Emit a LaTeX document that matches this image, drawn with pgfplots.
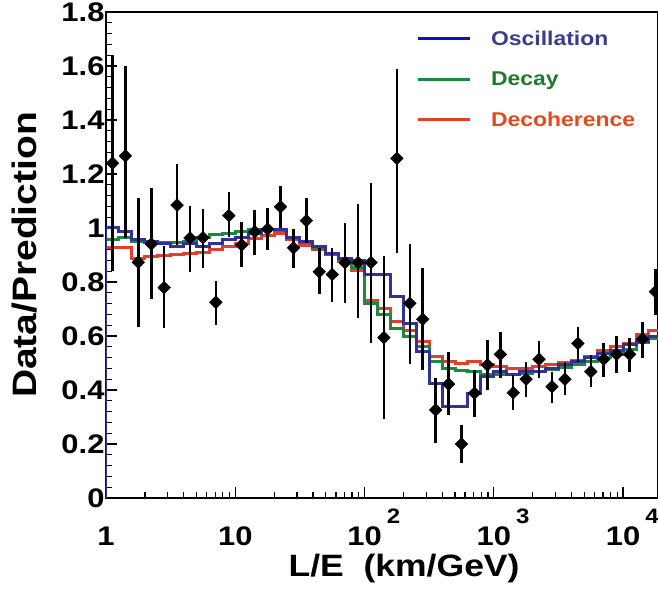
\documentclass[border=0pt]{standalone}
\usepackage{fontspec}
\setmainfont{Liberation Sans}[FakeStretch=1.15]
\usepackage{pgfplots}
\usepackage{pgfplotstable}
\pgfplotsset{compat=1.18}

\definecolor{osc}{RGB}{50,50,150}
\definecolor{dec}{RGB}{26,138,64}
\definecolor{coh}{RGB}{226,64,42}
\definecolor{legosc}{RGB}{16,16,200}
\definecolor{txtosc}{RGB}{60,60,140}
\definecolor{txtdec}{RGB}{30,122,40}
\definecolor{txtcoh}{RGB}{224,74,30}

% histograms: left bin edge, value for each model
\pgfplotstableread{
x osc dec coh
1 0 0 0
1 1.000 0.958 0.929
1.2589 0.986 0.965 0.929
1.5849 0.956 0.949 0.888
1.9953 0.949 0.945 0.893
2.5119 0.943 0.945 0.898
3.1623 0.933 0.945 0.900
3.9811 0.941 0.950 0.906
5.0119 0.931 0.965 0.908
6.3096 0.943 0.975 0.921
7.9433 0.956 0.980 0.932
10 0.965 0.986 0.944
12.589 0.980 0.995 0.962
15.849 0.993 0.995 0.974
19.953 0.996 0.990 0.980
25.119 0.965 0.960 0.956
31.623 0.950 0.945 0.937
39.811 0.931 0.925 0.919
50.119 0.906 0.900 0.900
63.096 0.888 0.880 0.876
79.433 0.881 0.855 0.844
100 0.826 0.720 0.730
125.89 0.826 0.678 0.702
158.49 0.746 0.628 0.653
199.53 0.647 0.598 0.622
251.19 0.542 0.561 0.579
316.23 0.425 0.505 0.523
398.11 0.338 0.481 0.505
501.19 0.338 0.474 0.499
630.96 0.388 0.468 0.505
794.33 0.449 0.456 0.493
1000 0.470 0.456 0.487
1258.9 0.456 0.456 0.481
1584.9 0.468 0.462 0.481
1995.3 0.468 0.468 0.487
2511.9 0.480 0.475 0.493
3162.3 0.493 0.485 0.500
3981.1 0.505 0.495 0.510
5011.9 0.520 0.505 0.525
6309.6 0.536 0.520 0.545
7943.3 0.548 0.530 0.560
10000 0.567 0.550 0.573
12589 0.579 0.575 0.604
15849 0.598 0.590 0.620
19953 0.598 0.590 0.620
}\models

% data points: bin centre, ratio, error up, error down
\pgfplotstableread{
x y ep em
1.122 1.240 0.400 0.400
1.413 1.267 0.333 0.304
1.778 0.873 0.238 0.240
2.239 0.941 0.207 0.204
2.818 0.779 0.155 0.149
3.548 1.085 0.152 0.148
4.467 0.963 0.120 0.126
5.623 0.964 0.106 0.111
7.079 0.725 0.080 0.084
8.913 1.046 0.089 0.078
11.22 0.937 0.086 0.082
14.13 0.986 0.081 0.086
17.78 0.996 0.077 0.077
22.39 1.079 0.077 0.079
28.18 0.927 0.069 0.074
35.48 1.027 0.085 0.081
44.67 0.838 0.089 0.084
56.23 0.828 0.099 0.101
70.79 0.872 0.145 0.149
89.13 0.872 0.217 0.207
112.2 0.872 0.296 0.299
141.3 0.594 0.302 0.303
177.8 1.258 0.332 0.349
223.9 0.721 0.219 0.225
281.8 0.662 0.189 0.188
354.8 0.326 0.117 0.121
446.7 0.422 0.118 0.115
562.3 0.200 0.070 0.072
707.9 0.388 0.086 0.087
891.3 0.493 0.092 0.093
1122 0.532 0.084 0.089
1413 0.390 0.066 0.064
1778 0.440 0.065 0.067
2239 0.514 0.067 0.071
2818 0.412 0.056 0.061
3548 0.440 0.065 0.059
4467 0.573 0.061 0.068
5623 0.468 0.062 0.058
7079 0.514 0.061 0.065
8913 0.532 0.068 0.068
11220 0.532 0.062 0.064
14130 0.589 0.064 0.069
17780 0.764 0.083 0.086
}\points

\newcommand{\powsup}[1]{\rlap{\hspace{5bp}\raisebox{22bp}{\fontsize{21}{21}\selectfont #1}}}

\begin{document}
\begin{tikzpicture}
\begin{axis}[
    name=ax,
    width=552bp, height=486bp, scale only axis,
    xmode=log, xmin=1, xmax=18620,
    ymin=0, ymax=1.8,
    xtick={1,10,100,1000,10000},
    xticklabels={1,10,10\powsup{2},10\powsup{3},10\powsup{4}},
    ytick={0,0.2,...,1.8},
    minor y tick num=4,
    xtick pos=bottom, ytick pos=left,
    tick align=inside,
    major tick length=11bp, minor tick length=6bp,
    every tick/.style={black, line width=1.3bp},
    axis line style={line width=1.5bp},
    /pgf/number format/assume math mode=true,
    /pgf/number format/fixed,
    ticklabel style={font=\fontsize{27}{27}\selectfont\bfseries},
    xticklabel style={anchor=base, yshift=-47bp},
    yticklabel style={xshift=2bp},
    xlabel={L/E\ \ (km/GeV)},
    ylabel={Data/Prediction},
    xlabel style={font=\fontsize{31}{31}\selectfont\bfseries,
      at={(axis description cs:0.54,0)}, anchor=center, yshift=-71bp},
    ylabel style={font=\fontsize{34}{34}\selectfont\bfseries,
      at={(axis description cs:0,0.5)}, anchor=center, yshift=81bp},
    legend style={draw=none, fill=none, at={(0.556,0.97)}, anchor=north west,
      font=\fontsize{20}{24}\selectfont\bfseries, row sep=21bp,
      /tikz/every odd column/.append style={column sep=18bp}},
    legend cell align=left,
    legend image code/.code={\draw[#1, line width=3bp] (0bp,0bp) -- (52bp,0bp);},
]
\addlegendimage{legosc}
\addlegendentry{\textcolor{txtosc}{Oscillation}}
\addlegendimage{dec}
\addlegendentry{\textcolor{txtdec}{Decay}}
\addlegendimage{coh}
\addlegendentry{\textcolor{txtcoh}{Decoherence}}

\addplot[const plot mark left, coh, line width=3bp, forget plot] table[x=x, y=coh] {\models};
\addplot[const plot mark left, dec, line width=3bp, forget plot] table[x=x, y=dec] {\models};
\addplot[const plot mark left, osc, line width=3bp, forget plot] table[x=x, y=osc] {\models};

\addplot[only marks, black, mark=square*, mark size=4.5bp, mark options={rotate=45},
    forget plot,
    error bars/.cd, y dir=both, y explicit, error mark=none,
    error bar style={line width=2.5bp, black}]
  table[x=x, y=y, y error plus=ep, y error minus=em] {\points};
\end{axis}
\pgfresetboundingbox
\path[use as bounding box] ([xshift=-106bp, yshift=-92bp]ax.south west)
  rectangle ([yshift=12bp]ax.north east);
\end{tikzpicture}
\end{document}
